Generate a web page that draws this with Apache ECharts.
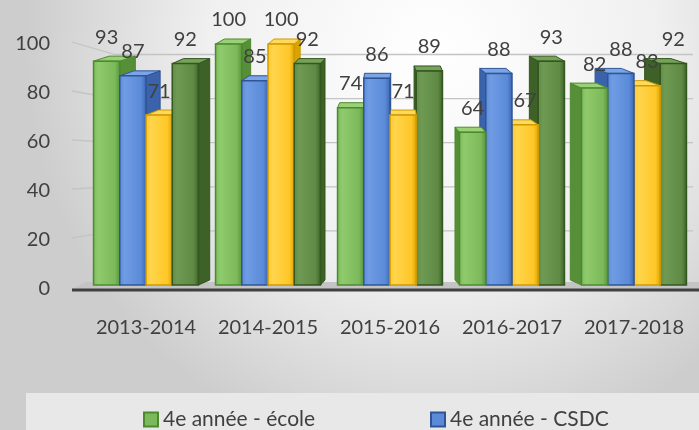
<!DOCTYPE html>
<html>
<head>
<meta charset="utf-8">
<script src="https://cdn.jsdelivr.net/npm/echarts@6/dist/echarts.min.js"></script>
<style>
  html, body { margin: 0; padding: 0; }
  #chart { width: 699px; height: 430px; }
</style>
</head>
<body>
<div id="chart"></div>
<script>
const years = ['2013-2014', '2014-2015', '2015-2016', '2016-2017', '2017-2018'];
const ecole4 = [93, 100, 74, 64, 82];
const csdc4 = [87, 85, 86, 88, 88];
const ecole6 = [71, 100, 71, 67, 83];
const csdc6 = [92, 92, 89, 93, 92];
const yTicks = [0, 20, 40, 60, 80, 100];

const FONT = 'Lato';
const TEXT = '#404040';

// face colours for each series
const palette = [
  { front: '#7cb95b', light: '#8fcb6d', side: '#568f38', top: '#9ad177', edge: '#4d8a2f' },
  { front: '#5a8ad8', light: '#6f9ce3', side: '#3a63ab', top: '#7ba5e6', edge: '#2f5597' },
  { front: '#ffc727', light: '#ffd54d', side: '#d9a300', top: '#ffd95e', edge: '#cf9b00' },
  { front: '#5f8a45', light: '#6e9a53', side: '#3d6126', top: '#76a35a', edge: '#34561f' }
];

const chart = echarts.init(document.getElementById('chart'));

function bar3d(sIdx) {
  return function (params, api) {
    const cat = api.value(0);
    const val = api.value(1);
    const base = api.coord([cat, 0]);
    const topPt = api.coord([cat, val]);
    const band = api.size([1, 0])[0];
    const w = band * 0.215;
    const x0 = base[0] + (sIdx - 1.5) * w - w / 2;
    const bottom = base[1] - 4;
    const top = topPt[1];
    const h = bottom - top;
    const cs = params.coordSys;
    const vp = cs.x + cs.width / 2;
    const xc = x0 + w / 2;
    const dx = 0.055 * (vp - xc);
    const dy = -5;
    const c = palette[sIdx];
    const order = 1000 - Math.abs(vp - xc);
    const sx = dx > 0 ? x0 + w : x0;
    return {
      type: 'group',
      children: [
        {
          type: 'polygon', z2: order,
          shape: { points: [[sx, top], [sx + dx, top + dy], [sx + dx, bottom + dy], [sx, bottom]] },
          style: { fill: c.side, stroke: c.edge, lineWidth: 1 }
        },
        {
          type: 'polygon', z2: order,
          shape: { points: [[x0, top], [x0 + w, top], [x0 + w + dx, top + dy], [x0 + dx, top + dy]] },
          style: { fill: c.top, stroke: c.edge, lineWidth: 1 }
        },
        {
          type: 'rect', z2: order + 0.5,
          shape: { x: x0, y: top, width: w, height: h },
          style: {
            fill: new echarts.graphic.LinearGradient(0, 0, 1, 0, [
              { offset: 0, color: c.front },
              { offset: 0.2, color: c.light },
              { offset: 0.8, color: c.front },
              { offset: 1, color: c.side }
            ]),
            stroke: c.edge, lineWidth: 1.5
          }
        },
        {
          type: 'text', z2: 5000,
          style: {
            text: String(val), x: xc, y: top - 24,
            align: 'center', verticalAlign: 'middle',
            fontFamily: FONT, fontSize: 20, fill: TEXT
          }
        }
      ]
    };
  };
}

// floor and the front base line
function floor(params, api) {
  const cs = params.coordSys;
  const y0 = api.coord([0, 0])[1];
  const l = cs.x - 13, r = cs.x + cs.width + 10;
  return {
    type: 'group',
    children: [
      {
        type: 'polygon',
        shape: { points: [[l, y0], [r, y0], [r - 6, y0 - 7], [l + 14, y0 - 7]] },
        style: { fill: '#c4c4c4' }
      },
      {
        type: 'line',
        shape: { x1: l, y1: y0 + 1, x2: r, y2: y0 + 1 },
        style: { stroke: '#404040', lineWidth: 3 }
      }
    ]
  };
}

// one back wall grid line per tick value
function gridLine(params, api) {
  const cs = params.coordSys;
  const y0 = api.coord([0, 0])[1];
  const yv = api.coord([0, api.value(1)])[1];
  const yb = y0 - 14 - (y0 - yv) * 0.9;
  const l = cs.x - 13, r = cs.x + cs.width - 2;
  return {
    type: 'polyline',
    shape: { points: [[l, yv - 2], [cs.x + 30, yb], [r, yb]] },
    style: { stroke: '#c4c4c4', lineWidth: 1.3, fill: 'none' }
  };
}

function seriesFor(name, data, i) {
  return {
    name: name,
    type: 'custom',
    renderItem: bar3d(i),
    itemStyle: { color: palette[i].front, borderColor: palette[i].edge, borderWidth: 1 },
    encode: { x: 0, y: 1 },
    data: data.map((v, k) => [k, v]),
    z: 3
  };
}

const option = {
  backgroundColor: {
    type: 'radial', x: 0.62, y: 0.12, r: 0.95,
    colorStops: [
      { offset: 0, color: '#ffffff' },
      { offset: 0.55, color: '#f0f0f0' },
      { offset: 1, color: '#cdcdcd' }
    ]
  },
  graphic: [
    { type: 'rect', left: 26, top: 393, shape: { width: 680, height: 40 }, style: { fill: '#e8e8e8' }, z: -1 }
  ],
  legend: [
    {
      data: ['4e année - école'], left: 138, top: 404,
      icon: 'rect', itemWidth: 14, itemHeight: 14, itemGap: 5,
      textStyle: { fontFamily: FONT, fontSize: 21, color: TEXT }
    },
    {
      data: ['4e année - CSDC'], left: 425, top: 404,
      icon: 'rect', itemWidth: 14, itemHeight: 14, itemGap: 5,
      textStyle: { fontFamily: FONT, fontSize: 21, color: TEXT }
    }
  ],
  grid: { left: 85, right: 4, top: 44, bottom: 141 },
  xAxis: {
    type: 'category',
    data: years,
    axisLine: { show: false },
    axisTick: { show: false },
    axisLabel: { fontFamily: FONT, fontSize: 20, color: TEXT, margin: 29, interval: 0 },
    splitLine: { show: false }
  },
  yAxis: {
    type: 'value',
    min: yTicks[0], max: yTicks[yTicks.length - 1], interval: 20,
    axisLine: { show: false },
    axisTick: { show: false },
    axisLabel: { fontFamily: FONT, fontSize: 20, color: TEXT, margin: 35 },
    splitLine: { show: false }
  },
  series: [
    { name: 'grid lines', type: 'custom', renderItem: gridLine, data: yTicks.slice(1).map(v => [0, v]), z: 1, silent: true },
    { name: 'floor', type: 'custom', renderItem: floor, data: [[0, 0]], z: 2, silent: true },
    seriesFor('4e année - école', ecole4, 0),
    seriesFor('4e année - CSDC', csdc4, 1),
    seriesFor('6e année - école', ecole6, 2),
    seriesFor('6e année - CSDC', csdc6, 3)
  ]
};

chart.setOption(option);
</script>
</body>
</html>
